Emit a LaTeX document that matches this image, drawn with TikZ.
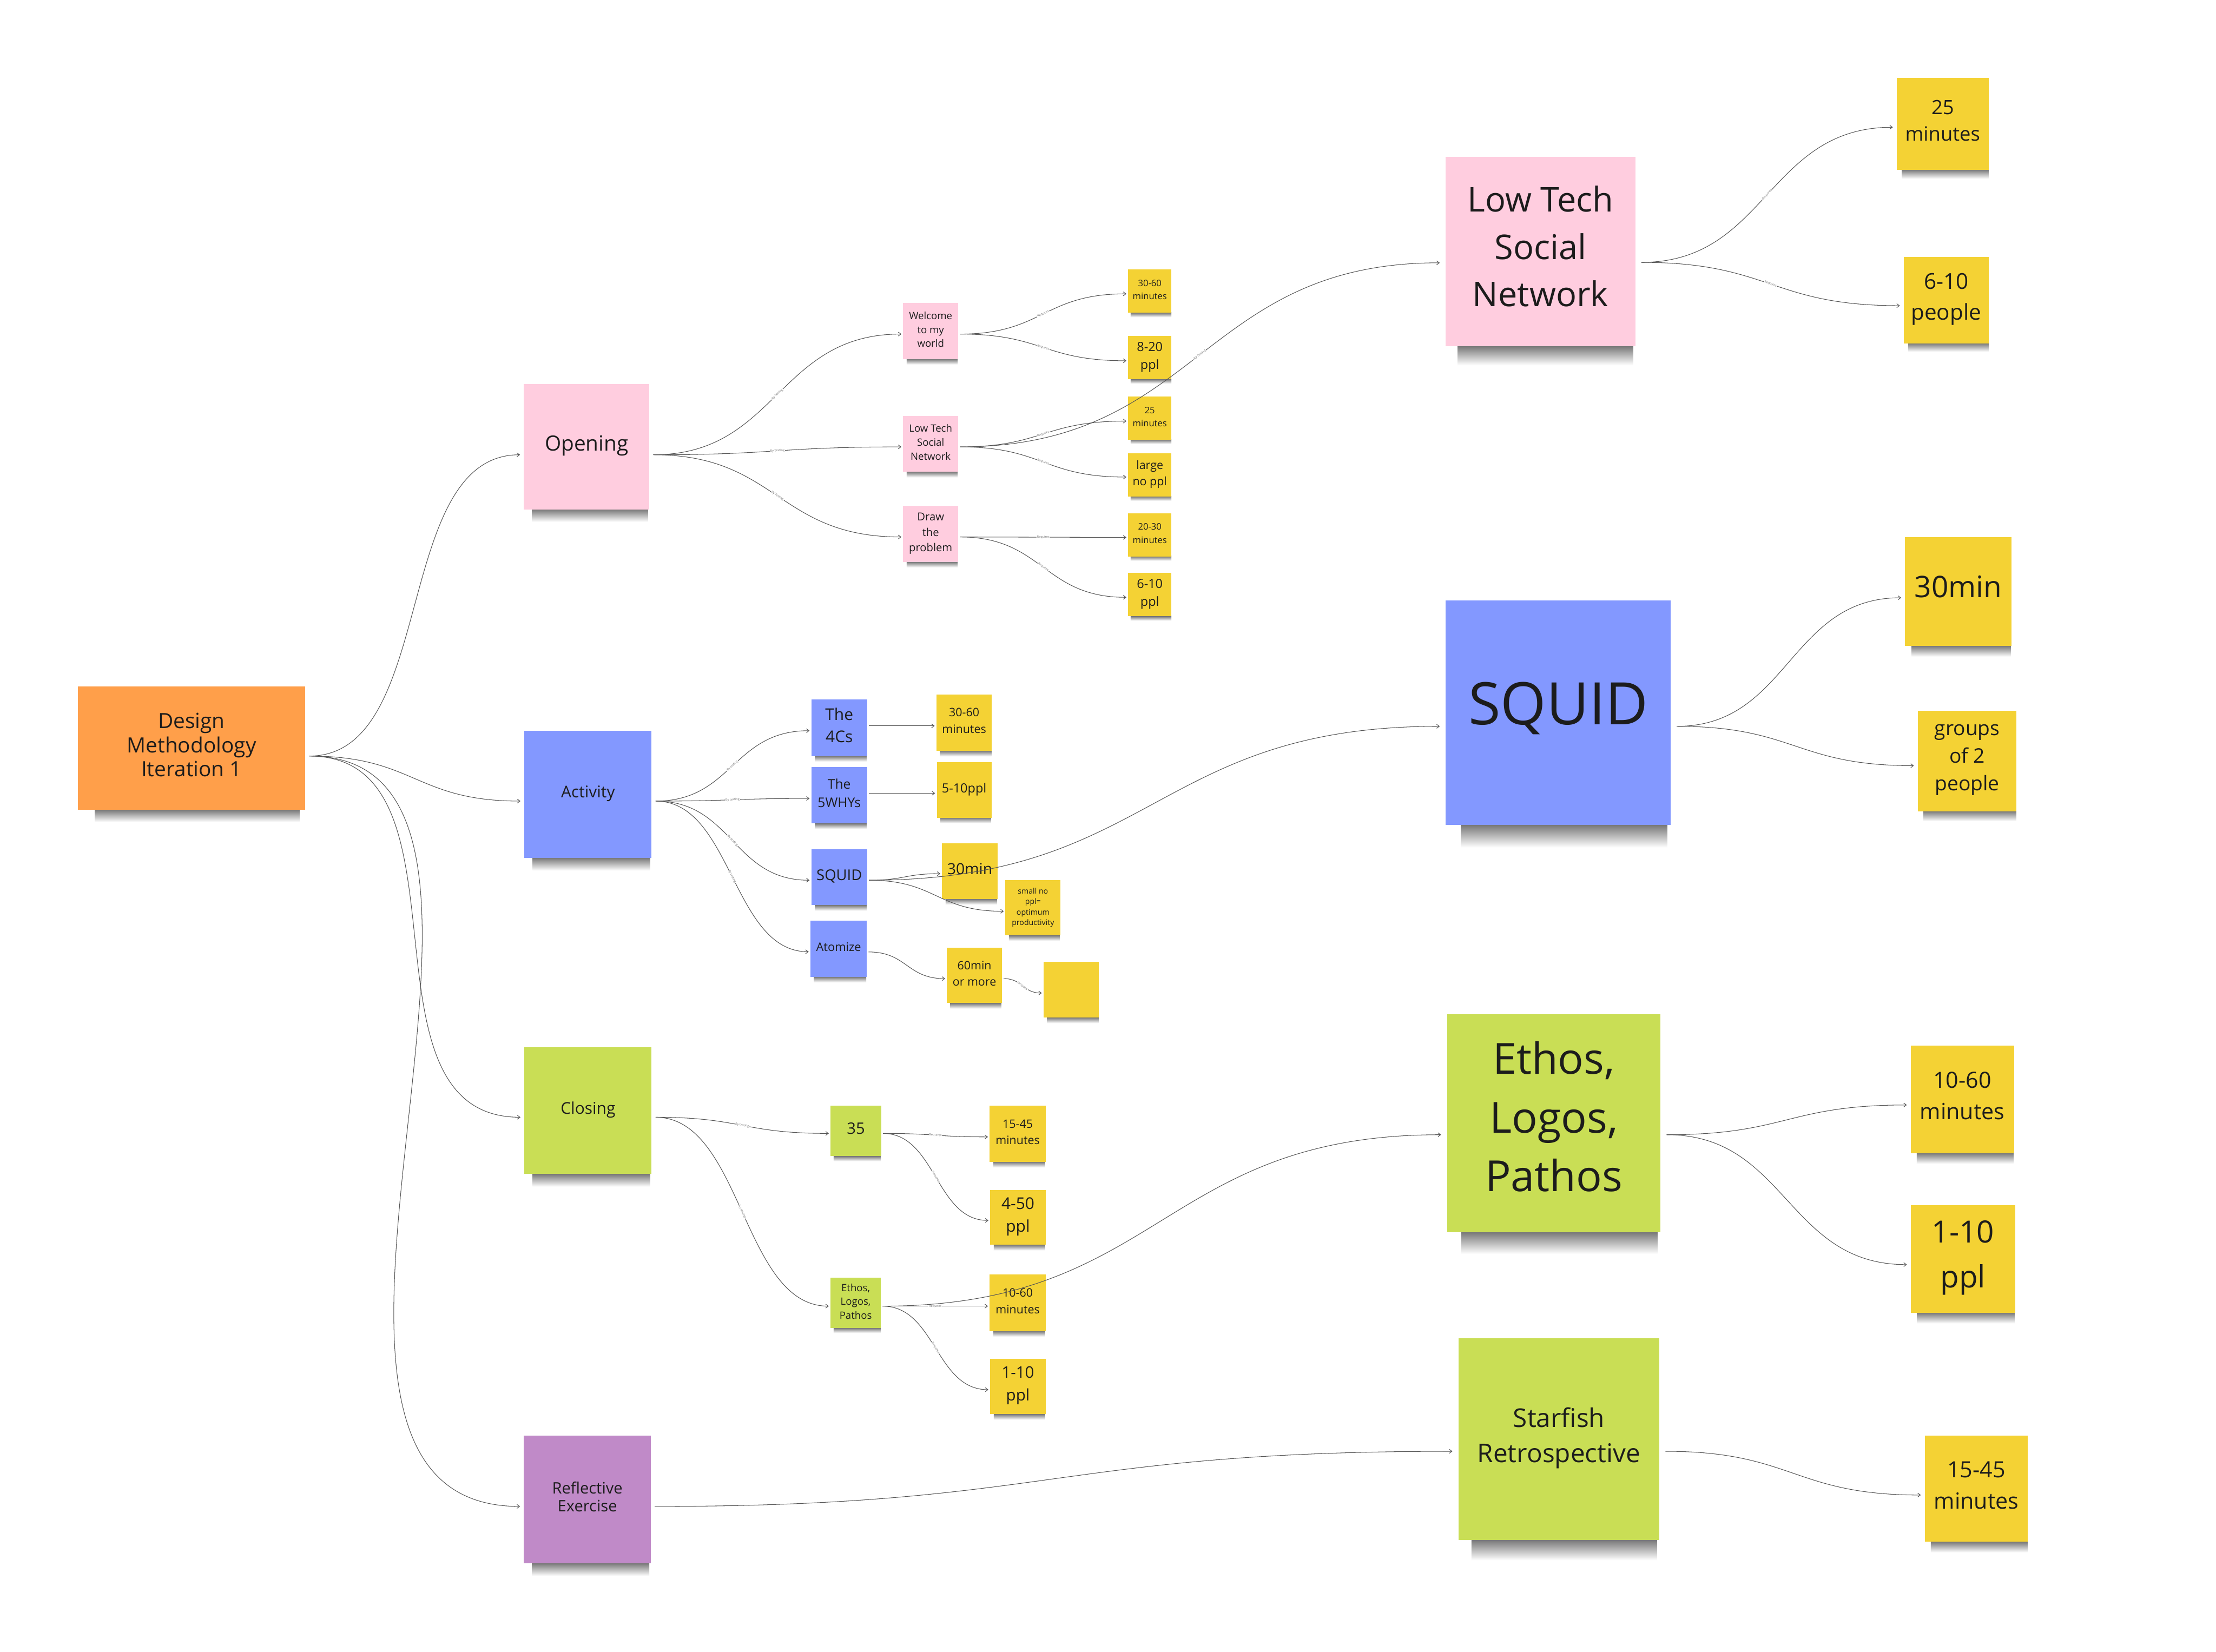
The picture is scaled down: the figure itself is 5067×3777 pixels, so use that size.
\documentclass[tikz,border=0pt]{standalone}
\usepackage{fontspec}
\setmainfont{Open Sans}
\usetikzlibrary{arrows.meta,calc,fadings}
\pgfdeclarelayer{bg}
\pgfsetlayers{bg,main}
\definecolor{cOrange}{HTML}{FF9F4A}
\definecolor{cPink}{HTML}{FFCDDF}
\definecolor{cBlue}{HTML}{8398FF}
\definecolor{cGreen}{HTML}{C9DE55}
\definecolor{cViolet}{HTML}{C08AC8}
\definecolor{cYellow}{HTML}{F4D234}
\definecolor{cText}{HTML}{1C1C1C}
\definecolor{cLine}{HTML}{555555}
\newcommand\stkfont[2]{\fontsize{#1}{#2}\selectfont}
\begin{tikzfadingfrompicture}[name=sidefade]
  \shade[left color=transparent!100, right color=transparent!0] (-50bp,-50bp) rectangle (-25bp,50bp);
  \fill[transparent!0] (-25bp,-50bp) rectangle (30bp,50bp);
  \shade[left color=transparent!0, right color=transparent!100] (30bp,-50bp) rectangle (50bp,50bp);
\end{tikzfadingfrompicture}
\begin{document}
\begin{tikzpicture}[x=1pt,y=-1pt,
  stk/.style={rectangle, inner sep=0pt, outer ysep=0pt, align=center, text=cText,
    execute at end node={\rule[-0.32em]{0pt}{0.32em}}},
  sS/.style={outer xsep=4pt},
  sM/.style={outer xsep=9pt},
  sL/.style={outer xsep=14pt},
  conn/.style={draw=cLine, line width=1.3pt, -{Straight Barb[length=6pt,width=9pt]}},
  hs/.style={to path={let \p1=(\tikztostart), \p2=(\tikztotarget), \n1={0.5*(\x2-\x1)} in .. controls ($(\p1)+(\n1,0)$) and ($(\p2)-(\n1,0)$) .. (\p2) \tikztonodes}},
  lbl/.style={midway, sloped, fill=white, inner sep=1pt, text=black!55, font=\stkfont{7}{8}},
]
\useasboundingbox (0,0) rectangle (5067,3777);

% ---- level 1/2
\node[stk,sM,fill=cOrange,minimum width=520pt,minimum height=282pt,font=\stkfont{48}{55}] (root) at (438,1711) {Design\\Methodology\\Iteration 1};
\node[stk,sM,fill=cPink,minimum width=287pt,minimum height=287pt,font=\stkfont{48}{56}] (opening) at (1341.5,1021.5) {Opening};
\node[stk,sM,fill=cBlue,minimum width=291pt,minimum height=291pt,font=\stkfont{37}{45}] (activity) at (1344.5,1816.5) {Activity};
\node[stk,sM,fill=cGreen,minimum width=291pt,minimum height=290pt,font=\stkfont{37}{45}] (closing) at (1344.5,2540) {Closing};
\node[stk,sM,fill=cViolet,minimum width=290pt,minimum height=292pt,font=\stkfont{36}{41}] (refl) at (1343,3429) {Reflective\\Exercise};

% ---- opening branch
\node[stk,sS,fill=cPink,minimum width=126pt,minimum height=128pt,font=\stkfont{23}{32}] (welcome) at (2128,757) {Welcome\\to my\\world};
\node[stk,sS,fill=cPink,minimum width=126pt,minimum height=128pt,font=\stkfont{23}{32}] (ltsmall) at (2128,1015) {Low Tech\\Social\\Network};
\node[stk,sS,fill=cPink,minimum width=126pt,minimum height=128pt,font=\stkfont{25}{35}] (drawp) at (2128,1221) {Draw\\the\\problem};
\node[stk,sS,fill=cYellow,minimum width=99pt,minimum height=99pt,font=\stkfont{20.5}{30}] (ya) at (2629,666) {30-60\\minutes};
\node[stk,sS,fill=cYellow,minimum width=99pt,minimum height=99pt,font=\stkfont{29}{41}] (yb) at (2629,818) {8-20\\ppl};
\node[stk,sS,fill=cYellow,minimum width=99pt,minimum height=99pt,font=\stkfont{20.5}{30}] (yc) at (2629,956) {25\\minutes};
\node[stk,sS,fill=cYellow,minimum width=99pt,minimum height=99pt,font=\stkfont{26.5}{37}] (yd) at (2629,1086) {large\\no ppl};
\node[stk,sS,fill=cYellow,minimum width=99pt,minimum height=99pt,font=\stkfont{20.5}{30}] (ye) at (2629,1223) {20-30\\minutes};
\node[stk,sS,fill=cYellow,minimum width=99pt,minimum height=99pt,font=\stkfont{29}{41}] (yf) at (2629,1360) {6-10\\ppl};

% ---- activity branch
\node[stk,sS,fill=cBlue,minimum width=128pt,minimum height=129pt,font=\stkfont{37}{51}] (fourc) at (1919,1664.5) {The\\4Cs};
\node[stk,sS,fill=cBlue,minimum width=128pt,minimum height=129pt,font=\stkfont{30.5}{42}] (fivew) at (1919,1818.5) {The\\5WHYs};
\node[stk,sS,fill=cBlue,minimum width=128pt,minimum height=128pt,font=\stkfont{34}{46}] (sqs) at (1919,2006) {SQUID};
\node[stk,sS,fill=cBlue,minimum width=129pt,minimum height=128pt,font=\stkfont{27}{37}] (atom) at (1917.5,2170) {Atomize};
\node[stk,sS,fill=cYellow,minimum width=127pt,minimum height=129pt,font=\stkfont{26.5}{38}] (yg) at (2204.5,1652.5) {30-60\\minutes};
\node[stk,sS,fill=cYellow,minimum width=125pt,minimum height=127pt,font=\stkfont{29}{40}] (yh) at (2204.5,1806.5) {5-10ppl};
\node[stk,sS,fill=cYellow,minimum width=127pt,minimum height=128pt,font=\stkfont{35}{48}] (yi) at (2217.5,1992) {30min};
\node[stk,sS,fill=cYellow,minimum width=126pt,minimum height=126pt,font=\stkfont{17.5}{24}] (yj) at (2362,2076) {small no\\ppl=\\optimum\\productivity};
\node[stk,sS,fill=cYellow,minimum width=126pt,minimum height=127pt,font=\stkfont{26.5}{38}] (yk) at (2228,2230.5) {60min\\or more};
\node[stk,sS,fill=cYellow,minimum width=127pt,minimum height=128pt] (yl) at (2449.5,2263) {};

% ---- closing branch
\node[stk,sS,fill=cGreen,minimum width=116pt,minimum height=115pt,font=\stkfont{36}{48}] (c35) at (1957,2586.5) {35};
\node[stk,sS,fill=cGreen,minimum width=115pt,minimum height=115pt,font=\stkfont{23}{31.5}] (ceth) at (1956.5,2979.5) {Ethos,\\Logos,\\Pathos};
\node[stk,sS,fill=cYellow,minimum width=128pt,minimum height=128pt,font=\stkfont{26.5}{38}] (ym) at (2327,2593) {15-45\\minutes};
\node[stk,sS,fill=cYellow,minimum width=127pt,minimum height=126pt,font=\stkfont{37}{52}] (yn) at (2327.5,2784) {4-50\\ppl};
\node[stk,sS,fill=cYellow,minimum width=128pt,minimum height=129pt,font=\stkfont{26.5}{38}] (yo) at (2327,2979.5) {10-60\\minutes};
\node[stk,sS,fill=cYellow,minimum width=127pt,minimum height=127pt,font=\stkfont{36.5}{52}] (yp) at (2327.5,3170.5) {1-10\\ppl};

% ---- big notes
\node[stk,sL,fill=cPink,minimum width=433pt,minimum height=433pt,font=\stkfont{78}{108}] (blt) at (3522.5,575.5) {Low Tech\\Social\\Network};
\node[stk,sL,fill=cBlue,minimum width=514pt,minimum height=514pt,font=\stkfont{134}{160}] (bsq) at (3563,1630) {SQUID};
\node[stk,sL,fill=cGreen,minimum width=488pt,minimum height=498pt,font=\stkfont{98}{134}] (beth) at (3553,2569) {Ethos,\\Logos,\\Pathos};
\node[stk,sL,fill=cGreen,minimum width=459pt,minimum height=462pt,font=\stkfont{59}{81}] (bstar) at (3564.5,3291) {Starfish\\Retrospective};

% ---- right yellows
\node[stk,sM,fill=cYellow,minimum width=210pt,minimum height=210pt,font=\stkfont{45}{61}] (ra) at (4442,283) {25\\minutes};
\node[stk,sM,fill=cYellow,minimum width=194pt,minimum height=197pt,font=\stkfont{50}{71}] (rb) at (4450,686.5) {6-10\\people};
\node[stk,sM,fill=cYellow,minimum width=243pt,minimum height=249pt,font=\stkfont{68}{90}] (rc) at (4477.5,1352.5) {30min};
\node[stk,sM,fill=cYellow,minimum width=226pt,minimum height=230pt,font=\stkfont{46}{63}] (rd) at (4498,1740) {groups\\of 2\\people};
\node[stk,sM,fill=cYellow,minimum width=236pt,minimum height=246pt,font=\stkfont{51}{71}] (re) at (4487,2514) {10-60\\minutes};
\node[stk,sM,fill=cYellow,minimum width=239pt,minimum height=246pt,font=\stkfont{70}{103}] (rf) at (4488.5,2879) {1-10\\ppl};
\node[stk,sM,fill=cYellow,minimum width=236pt,minimum height=243pt,font=\stkfont{51}{71}] (rg) at (4519,3404.5) {15-45\\minutes};

% ---- background and soft shadows under the notes
\begin{pgfonlayer}{bg}
\fill[white] (0,0) rectangle (5067,3777);
\foreach \nd in {root,opening,activity,closing,refl,welcome,ltsmall,drawp,ya,yb,yc,yd,ye,yf,fourc,fivew,sqs,atom,yg,yh,yi,yj,yk,yl,c35,ceth,ym,yn,yo,yp,blt,bsq,beth,bstar,ra,rb,rc,rd,re,rf,rg}{
  \shade[top color=black!58, bottom color=white, path fading=sidefade, fit fading=true]
    let \p1=(\nd.south west), \p2=(\nd.north east), \n1={\x2-\x1}, \n2={\y2-\y1} in
    (\x1+0.09*\n1, \y1+0.01*\n2) rectangle (\x2-0.04*\n1, \y1-0.1*\n2);
}
\end{pgfonlayer}

% ---- connectors
\draw[conn] ([yshift=-18pt]root.east) .. controls +(294,0) and +(-294,0) .. ([yshift=-18.5pt]opening.west);
\draw[conn] ([yshift=-18pt]root.east) to[hs] ([yshift=-15.5pt]activity.west);
\draw[conn] ([yshift=-18pt]root.east) .. controls +(394,0) and +(-394,0) .. ([yshift=-15pt]closing.west);
\draw[conn] ([yshift=-18pt]root.east) .. controls +(644,0) and +(-689,0) .. ([yshift=-16pt]refl.west);

\draw[conn] ([yshift=-18.5pt]opening.east) to[hs] node[lbl]{By Testing} ([yshift=-7pt]welcome.west);
\draw[conn] ([yshift=-18.5pt]opening.east) to[hs] node[lbl]{By Testing} ([yshift=-7pt]ltsmall.west);
\draw[conn] ([yshift=-18.5pt]opening.east) to[hs] node[lbl]{By Testing} ([yshift=-7pt]drawp.west);

\draw[conn] ([yshift=-7pt]welcome.east) to[hs] node[lbl]{Requires} ([yshift=-6pt]ya.west);
\draw[conn] ([yshift=-7pt]welcome.east) to[hs] node[lbl]{Requires} ([yshift=-7pt]yb.west);
\draw[conn] ([yshift=-7pt]ltsmall.east) to[hs] node[lbl]{Requires} ([yshift=-7pt]yc.west);
\draw[conn] ([yshift=-7pt]ltsmall.east) to[hs] node[lbl]{Requires} ([yshift=-5pt]yd.west);
\draw[conn] ([yshift=-7pt]ltsmall.east) to[hs] node[lbl]{By Testing} ([yshift=-25.5pt]blt.west);
\draw[conn] ([yshift=-7pt]drawp.east) to[hs] node[lbl]{Requires} ([yshift=-6pt]ye.west);
\draw[conn] ([yshift=-7pt]drawp.east) to[hs] node[lbl]{Requires} ([yshift=-6pt]yf.west);

\draw[conn] ([yshift=-15.5pt]activity.east) to[hs] node[lbl]{By testing} ([yshift=-6.5pt]fourc.west);
\draw[conn] ([yshift=-15.5pt]activity.east) to[hs] node[lbl]{By testing} ([yshift=-7.5pt]fivew.west);
\draw[conn] ([yshift=-15.5pt]activity.east) to[hs] node[lbl]{By testing} ([yshift=-7pt]sqs.west);
\draw[conn] ([yshift=-15.5pt]activity.east) to[hs] node[lbl]{By testing} ([yshift=-6.5pt]atom.west);

\draw[conn] ([yshift=4.5pt]fourc.east) to[hs] ([yshift=-7.5pt]yg.west);
\draw[conn] ([yshift=4.5pt]fivew.east) to[hs] ([yshift=-7.5pt]yh.west);
\draw[conn] ([yshift=-7pt]sqs.east) to[hs] ([yshift=-6pt]yi.west);
\draw[conn] ([yshift=-7pt]sqs.east) to[hs] ([yshift=-8pt]yj.west);
\draw[conn] ([yshift=-7pt]sqs.east) to[hs] ([yshift=-31pt]bsq.west);
\draw[conn] ([yshift=-7pt]atom.east) to[hs] ([yshift=-7.5pt]yk.west);
\draw[conn] ([yshift=-7.5pt]yk.east) to[hs] node[lbl]{Includes} ([yshift=-8pt]yl.west);

\draw[conn] ([yshift=-15pt]closing.east) to[hs] node[lbl]{By testing} ([yshift=-5.5pt]c35.west);
\draw[conn] ([yshift=-15pt]closing.east) to[hs] node[lbl]{By testing} ([yshift=-7.5pt]ceth.west);
\draw[conn] ([yshift=-5.5pt]c35.east) to[hs] node[lbl]{Requires} ([yshift=-7pt]ym.west);
\draw[conn] ([yshift=-5.5pt]c35.east) to[hs] node[lbl]{Requires} ([yshift=-7pt]yn.west);
\draw[conn] ([yshift=-7.5pt]ceth.east) to[hs] node[lbl]{Requires} ([yshift=-7.5pt]yo.west);
\draw[conn] ([yshift=-7.5pt]ceth.east) to[hs] node[lbl]{Requires} ([yshift=-7.5pt]yp.west);
\draw[conn] ([yshift=-7.5pt]ceth.east) to[hs] ([yshift=-26pt]beth.west);

\draw[conn] ([yshift=-16pt]refl.east) to[hs] ([yshift=-28pt]bstar.west);

\draw[conn] ([yshift=-24.5pt]blt.east) to[hs] node[lbl]{Requires} ([yshift=-8pt]ra.west);
\draw[conn] ([yshift=-24.5pt]blt.east) to[hs] node[lbl]{Requires} ([yshift=-12.5pt]rb.west);
\draw[conn] ([yshift=-31pt]bsq.east) to[hs] ([yshift=-14.5pt]rc.west);
\draw[conn] ([yshift=-31pt]bsq.east) to[hs] ([yshift=-11pt]rd.west);
\draw[conn] ([yshift=-26pt]beth.east) to[hs] ([yshift=-13pt]re.west);
\draw[conn] ([yshift=-26pt]beth.east) to[hs] ([yshift=-13pt]rf.west);
\draw[conn] ([yshift=-28pt]bstar.east) to[hs] ([yshift=-14.5pt]rg.west);
\end{tikzpicture}
\end{document}
